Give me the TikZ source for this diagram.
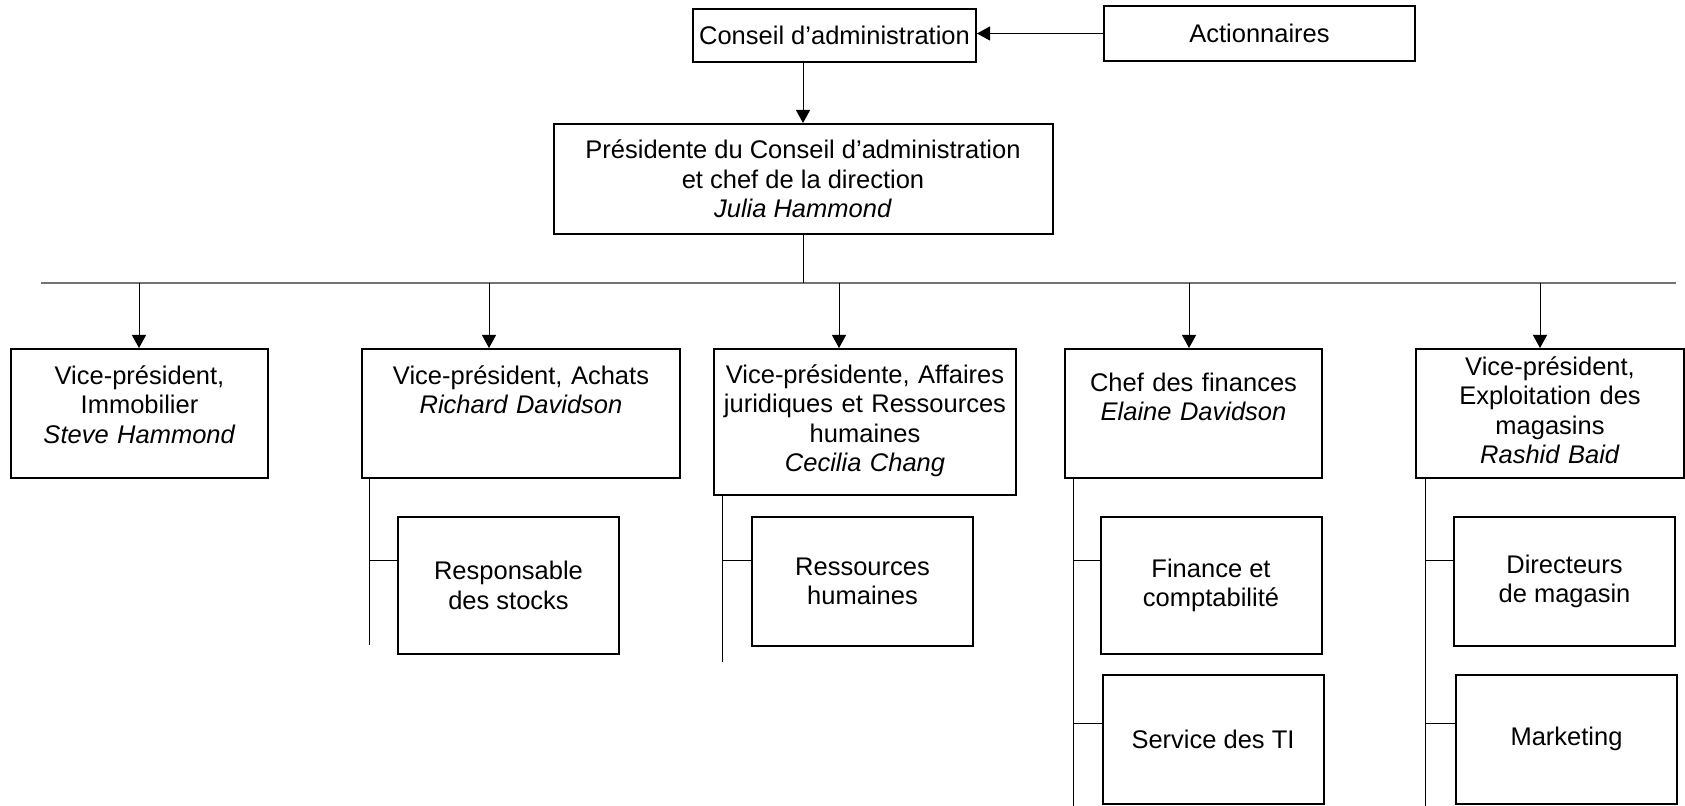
\documentclass[tikz,border=0pt]{standalone}
\usepackage{fontspec}
\setmainfont{Liberation Sans}
\usetikzlibrary{arrows.meta,positioning}

\begin{document}
\begin{tikzpicture}[x=0.5pt,y=-0.5pt,>={Triangle[width=7pt,length=6.5pt]},
                    font=\fontsize{12.75}{14.75}\selectfont]
  \tikzstyle{box}=[draw,line width=1pt,inner sep=0pt,align=center]
  \tikzstyle{vp}=[box,anchor=north]
  \tikzstyle{unit}=[box,minimum width=110.5pt]
  \tikzstyle{link}=[line width=0.5pt]
  \tikzstyle{bus}=[line width=1pt,draw=black!55]

  \useasboundingbox (0,0) rectangle (1685,806);

  % top of the chart
  \node[box,minimum width=141.5pt,minimum height=26.5pt] (conseil) at (834.5,35.5) {Conseil d’administration};
  \node[box,minimum width=155.5pt,minimum height=27.5pt] (action) at (1259.5,33.5) {Actionnaires};
  \node[box,minimum width=249.5pt,minimum height=55pt] (pres) at (803,179)
       {Présidente du Conseil d’administration\\et chef de la direction\\\textit{Julia Hammond}};

  \draw[->,link] (action.west) -- (conseil.east |- action.west);
  \draw[->,link] (pres.north |- conseil.south) -- (pres.north);

  % bus line
  \coordinate (busL) at (41,283);
  \coordinate (busR) at (1676,283);
  \coordinate (d1) at (139,283);
  \coordinate (d2) at (489,283);
  \coordinate (d3) at (839,283);
  \coordinate (d4) at (1189,283);
  \coordinate (d5) at (1540,283);
  \draw[bus] (busL) -- (busR);
  \draw[link] (pres.south) -- (pres.south |- busL);

  % vice-presidents
  \node[vp,text width=128.5pt,text height=17.75pt,text depth=46.75pt] (vp1) at (139.5,348)
       {Vice-président,\\Immobilier\\\textit{Steve Hammond}};
  \node[vp,text width=159pt,text height=17.75pt,text depth=46.75pt] (vp2) at (521,348)
       {Vice-président, Achats\\\textit{Richard Davidson}};
  \node[vp,text width=151pt,text height=17.25pt,text depth=55.75pt] (vp3) at (865,348)
       {Vice-présidente, Affaires\\juridiques et Ressources\\humaines\\\textit{Cecilia Chang}};
  \node[vp,text width=128.5pt,text height=21.25pt,text depth=43.25pt] (vp4) at (1193.5,348)
       {Chef des finances\\\textit{Elaine Davidson}};
  \node[vp,text width=134pt,text height=13.25pt,text depth=51.25pt] (vp5) at (1550,348)
       {Vice-président,\\Exploitation des\\magasins\\\textit{Rashid Baid}};

  \foreach \i in {1,...,5}
    \draw[->,link] (d\i) -- (d\i |- vp\i.north);

  % units
  \node[unit,minimum height=68.5pt] (stock) at (508.5,585.5) {Responsable\\des stocks};
  \node[unit,minimum height=64.5pt] (rh) at (862.5,581.5) {Ressources\\humaines};
  \node[unit,minimum height=68.5pt] (fin) at (1211,585.5) {Finance et\\comptabilité};
  \node[unit,minimum height=64.5pt] (ti) at (1213,739) {Service des TI};
  \node[unit,minimum height=64.5pt] (dir) at (1564.5,581.5) {Directeurs\\de magasin};
  \node[unit,minimum height=64.5pt] (mkt) at (1566.5,739) {Marketing};

  \coordinate (k2) at (369,560);  \coordinate (e2) at (369,645);
  \coordinate (k3) at (722,560);  \coordinate (e3) at (722,662);
  \coordinate (k4) at (1073,560); \coordinate (m4) at (1073,723); \coordinate (e4) at (1073,806);
  \coordinate (k5) at (1425,560); \coordinate (m5) at (1425,723); \coordinate (e5) at (1425,806);

  \draw[link] (vp2.south -| e2) -- (e2);
  \draw[link] (k2) -- (k2 -| stock.west);
  \draw[link] (vp3.south -| e3) -- (e3);
  \draw[link] (k3) -- (k3 -| rh.west);
  \draw[link] (vp4.south -| e4) -- (e4);
  \draw[link] (k4) -- (k4 -| fin.west);
  \draw[link] (m4) -- (m4 -| ti.west);
  \draw[link] (vp5.south -| e5) -- (e5);
  \draw[link] (k5) -- (k5 -| dir.west);
  \draw[link] (m5) -- (m5 -| mkt.west);
\end{tikzpicture}
\end{document}
